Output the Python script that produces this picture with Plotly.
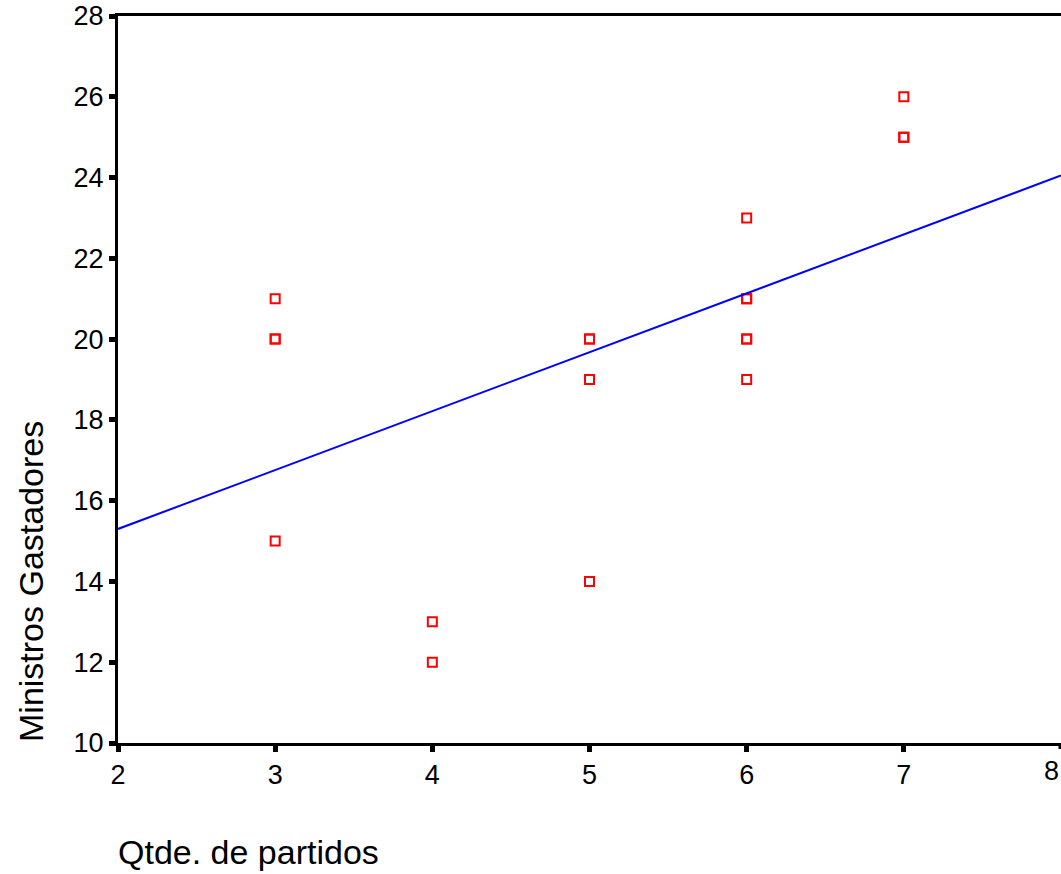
import plotly.graph_objects as go

# Number of parties vs. number of spending ministers
qtde_partidos = [3, 3, 3, 3, 4, 4, 5, 5, 5, 5, 6, 6, 6, 6, 6, 6, 7, 7, 7]
ministros_gastadores = [21, 20, 20, 15, 13, 12, 20, 20, 19, 14, 23, 21, 21, 20, 20, 19, 26, 25, 25]

# Linear fit line endpoints
fit_x = [2, 8]
fit_y = [15.3, 24.05]

x_ticks = [2, 3, 4, 5, 6, 7, 8]
y_ticks = [10, 12, 14, 16, 18, 20, 22, 24, 26, 28]

FONT = "Liberation Sans, Arial, sans-serif"
TICK_SIZE = 27
TITLE_SIZE = 34

W, H = 1061, 874
L, R, T, B = 118, 0, 16, 131
plot_w = W - L - R
plot_h = H - T - B


def px_x(px):
    return (px - L) / plot_w


def px_y(py):
    return (H - B - py) / plot_h


fig = go.Figure()
fig.add_trace(go.Scatter(
    x=qtde_partidos, y=ministros_gastadores, mode="markers",
    marker=dict(symbol="square-open", size=9, color="#ff0000",
                line=dict(width=2, color="#ff0000")),
    showlegend=False, cliponaxis=False,
))
fig.add_trace(go.Scatter(
    x=fit_x, y=fit_y, mode="lines",
    line=dict(color="#0000ff", width=2),
    showlegend=False,
))

fig.update_layout(
    width=W, height=H,
    margin=dict(l=L, r=R, t=T, b=B),
    paper_bgcolor="white", plot_bgcolor="white",
    font=dict(family=FONT, size=TICK_SIZE, color="black"),
    xaxis=dict(
        range=[2, 8], tickvals=x_ticks[:-1], ticktext=[str(v) for v in x_ticks[:-1]],
        showgrid=False, zeroline=False,
        showline=True, linecolor="black", linewidth=3, mirror=True,
        ticks="outside", ticklen=6, tickwidth=5, tickcolor="black",
        tickfont=dict(size=TICK_SIZE, family=FONT),
    ),
    yaxis=dict(
        range=[10, 28], tickvals=y_ticks, ticktext=[str(v) for v in y_ticks],
        showgrid=False, zeroline=False,
        showline=True, linecolor="black", linewidth=3,
        ticks="outside", ticklen=6, tickwidth=5, tickcolor="black",
        tickfont=dict(size=TICK_SIZE, family=FONT),
    ),
    annotations=[
        # last x tick label, kept inside the right page edge
        dict(text=str(x_ticks[-1]), x=1, xref="paper", y=px_y(771), yref="paper",
             showarrow=False, xanchor="right", yanchor="middle",
             font=dict(size=TICK_SIZE, family=FONT)),
        dict(text="Ministros Gastadores", x=px_x(31), y=px_y(582),
             xref="paper", yref="paper", showarrow=False, textangle=-90,
             xanchor="center", yanchor="middle",
             font=dict(size=TITLE_SIZE, family=FONT)),
        dict(text="Qtde. de partidos", x=px_x(116), y=px_y(852),
             xref="paper", yref="paper", showarrow=False,
             xanchor="left", yanchor="middle",
             font=dict(size=TITLE_SIZE, family=FONT)),
    ],
    shapes=[
        # tick mark at x = 8 on the right edge
        dict(type="line", xref="x", yref="paper", x0=x_ticks[-1], x1=x_ticks[-1],
             y0=0, y1=-6 / plot_h, line=dict(color="black", width=5)),
    ],
)

fig.write_html("out.html")
